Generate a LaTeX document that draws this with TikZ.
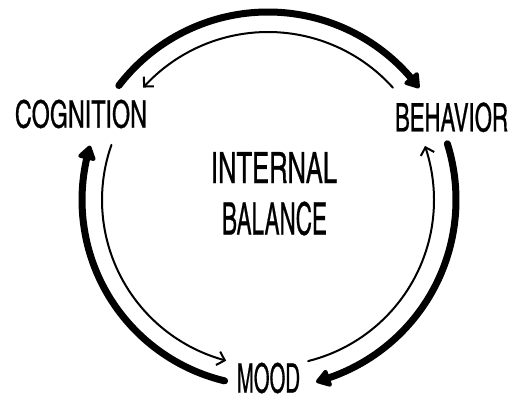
\documentclass[tikz,border=0pt]{standalone}
\usepackage{fontspec}
\newfontfamily\hand[FakeBold=0.6]{texgyreheroscn-regular.otf}
\usepackage{graphicx}
\usetikzlibrary{arrows.meta,bending,calc}
\begin{document}
\begin{tikzpicture}[x=1pt,y=1pt,
  thickarr/.style={line width=7pt,line cap=round,-{Triangle[length=16pt,width=20pt,round,bend]}},
  thinarr/.style={line width=2pt,line cap=round,-{Straight Barb[length=7pt,width=14pt,bend]}},
  lbl/.style={inner sep=0pt,anchor=center,font=\hand}]
\useasboundingbox (0,0) rectangle (511,400);
\coordinate (c) at (268,200);
\node[lbl] (cog) at (81,286) {\resizebox{132pt}{28pt}{COGNITION}};
\node[lbl] (beh) at (451.5,282.7) {\resizebox{113pt}{29pt}{BEHAVIOR}};
\node[lbl] (int) at (274,232.5) {\resizebox{126pt}{31pt}{INTERNAL}};
\node[lbl] (bal) at (274.5,181.5) {\resizebox{105pt}{33pt}{BALANCE}};
\node[lbl] (mood) at (268.5,22) {\resizebox{63pt}{30pt}{MOOD}};
% top arrows
\coordinate (ts) at ($(c)+(142.5:188)$);
\draw[thickarr] (ts) arc[start angle=142.5,end angle=36.5,radius=188];
\coordinate (tts) at ($(c)+(42:168)$);
\draw[thinarr] (tts) arc[start angle=42,end angle=138,radius=168];
% left arrows
\coordinate (ls) at ($(c)+(256.5:186)$);
\draw[thickarr] (ls) arc[start angle=256.5,end angle=163,radius=186];
\coordinate (lts) at ($(c)+(160.6:166)$);
\draw[thinarr] (lts) arc[start angle=160.6,end angle=255.4,radius=166];
% right arrows
\coordinate (rs) at ($(c)+(17.4:188)$);
\draw[thickarr] (rs) arc[start angle=17.4,end angle=-75.2,radius=188];
\coordinate (rts) at ($(c)+(-76:166)$);
\draw[thinarr] (rts) arc[start angle=-76,end angle=19,radius=166];
\end{tikzpicture}
\end{document}
